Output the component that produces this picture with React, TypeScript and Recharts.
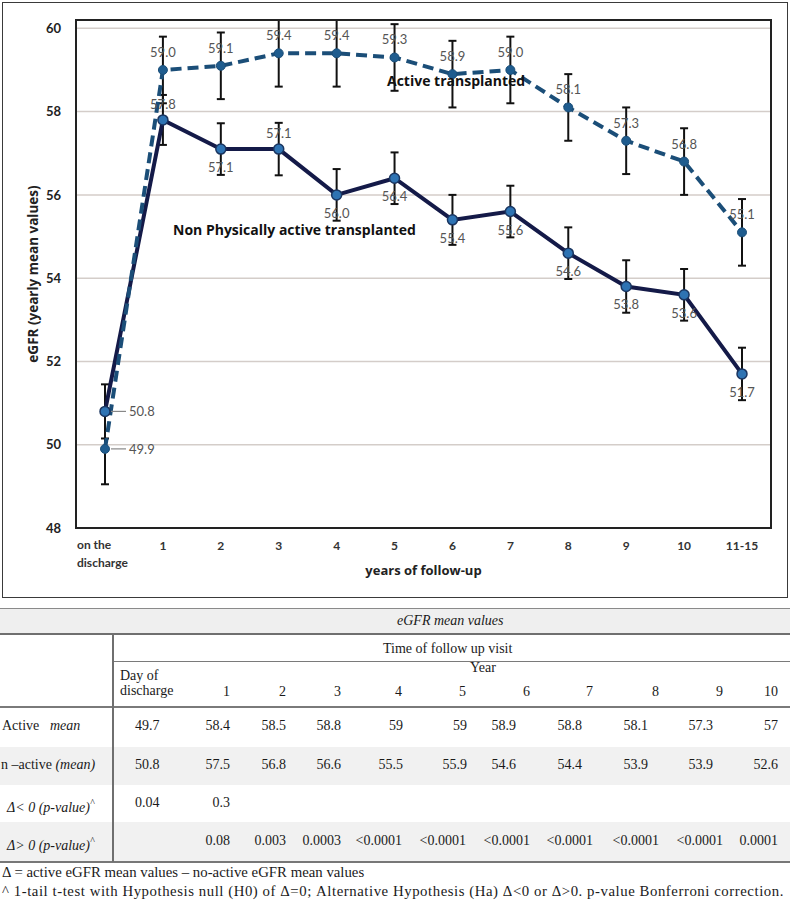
import { LineChart, Line, XAxis, YAxis, CartesianGrid, ErrorBar, LabelList } from 'recharts';

// follow-up points on the x axis
const categories = ['on the discharge', '1', '2', '3', '4', '5', '6', '7', '8', '9', '10', '11-15'];

// yearly eGFR means
const activeMean = [49.9, 59.0, 59.1, 59.4, 59.4, 59.3, 58.9, 59.0, 58.1, 57.3, 56.8, 55.1];
const nonActiveMean = [50.8, 57.8, 57.1, 57.1, 56.0, 56.4, 55.4, 55.6, 54.6, 53.8, 53.6, 51.7];

// half-length of the error bars
const activeErr = [0.85, 0.8, 0.8, 0.8, 0.8, 0.8, 0.8, 0.8, 0.8, 0.8, 0.8, 0.8];
const nonActiveErr = [0.65, 0.6, 0.62, 0.63, 0.62, 0.62, 0.6, 0.62, 0.62, 0.63, 0.62, 0.63];

const yTicks = [48, 50, 52, 54, 56, 58, 60];

// table below the chart
const tableYears = ['1', '2', '3', '4', '5', '6', '7', '8', '9', '10'];
const tableActive = ['49.7', '58.4', '58.5', '58.8', '59', '59', '58.9', '58.8', '58.1', '57.3', '57'];
const tableNonActive = ['50.8', '57.5', '56.8', '56.6', '55.5', '55.9', '54.6', '54.4', '53.9', '53.9', '52.6'];
const pLess = ['0.04', '0.3', '', '', '', '', '', '', '', '', ''];
const pGreater = ['', '0.08', '0.003', '0.0003', '<0.0001', '<0.0001', '<0.0001', '<0.0001', '<0.0001', '<0.0001', '0.0001'];

const chartData = categories.map((cat, i) => ({
  cat,
  active: activeMean[i],
  nonActive: nonActiveMean[i],
  activeErr: activeErr[i],
  nonActiveErr: nonActiveErr[i],
}));

const SANS = 'Lato, "Open Sans", sans-serif';
const WIDE = '"Open Sans", Lato, sans-serif';
const SERIF = '"Liberation Serif", "Times New Roman", serif';

// chart box: plot area follows from these margins and axis sizes
const W = 790;
const H = 600;
const M = { top: 20, right: 19, bottom: 0, left: 36 };
const Y_AXIS_W = 40;
const X_AXIS_H = 72;

// right edges of the table's year columns
const colRight = [230, 286, 341, 402, 466, 530, 593, 659, 723, 778];
const meanRight = [230, 286, 341, 403, 467, 516, 582, 648, 713, 778];

const fmt = (v: number) => Number(v).toFixed(1);

function pointOf(props: any) {
  const vb = props.viewBox || {};
  return { x: props.x ?? vb.x, y: props.y ?? vb.y };
}

const labelStyle = { fontFamily: SANS, fontSize: 13, fill: '#555' };

function sideLabel(x: number, y: number, value: number) {
  return (
    <g>
      <line x1={x + 6} y1={y} x2={x + 21} y2={y} stroke="#888" strokeWidth={1.2} />
      <text x={x + 24} y={y} dominantBaseline="central" {...labelStyle}>
        {fmt(value)}
      </text>
    </g>
  );
}

const ActiveLabel = (props: any) => {
  const { x, y } = pointOf(props);
  if (x == null || y == null) return null;
  if (props.index === 0) return sideLabel(x, y, props.value);
  return (
    <text x={x} y={y - 13} textAnchor="middle" {...labelStyle}>
      {fmt(props.value)}
    </text>
  );
};

const NonActiveLabel = (props: any) => {
  const { x, y } = pointOf(props);
  if (x == null || y == null) return null;
  if (props.index === 0) return sideLabel(x, y, props.value);
  const above = props.index === 1 || props.index === 3;
  return (
    <text x={x} y={above ? y - 11 : y + 23} textAnchor="middle" {...labelStyle}>
      {fmt(props.value)}
    </text>
  );
};

const XTick = (props: any) => {
  const { x, y, payload } = props;
  const style = { fontFamily: SANS, fontSize: 12, fontWeight: 700, fill: '#333' };
  if (payload.value === 'on the discharge') {
    return (
      <text x={x - 28} y={y + 21} textAnchor="start" {...style}>
        <tspan x={x - 28}>on the</tspan>
        <tspan x={x - 28} dy={18}>discharge</tspan>
      </text>
    );
  }
  return (
    <text x={x} y={y + 22} textAnchor="middle" {...style}>
      {payload.value}
    </text>
  );
};

function Cell({ cy, left, right, children, style }: any) {
  return (
    <div
      style={{
        position: 'absolute',
        top: cy - 10,
        height: 20,
        lineHeight: '20px',
        left,
        right: right !== undefined ? 790 - right : undefined,
        whiteSpace: 'nowrap',
        ...style,
      }}
    >
      {children}
    </div>
  );
}

function HLine({ y, x1 = 0, x2 = 790, w = 1, color = '#8a8a8a' }: any) {
  return <div style={{ position: 'absolute', left: x1, top: y, width: x2 - x1, height: w, background: color }} />;
}

function Table() {
  const rowsY = [726, 765, 803, 841];
  return (
    <div style={{ position: 'absolute', left: 0, top: 0, width: 790, height: 905, fontFamily: SERIF, fontSize: 14, color: '#1a1a1a' }}>
      <div style={{ position: 'absolute', left: 0, top: 608, width: 790, height: 25, background: '#efefef' }} />
      <div style={{ position: 'absolute', left: 0, top: 747, width: 790, height: 38, background: '#f1f1f1' }} />
      <div style={{ position: 'absolute', left: 0, top: 822, width: 790, height: 40, background: '#f1f1f1' }} />
      <HLine y={608} />
      <HLine y={633} w={1.5} color="#6f6f6f" />
      <HLine y={661} x1={113} color="#7a7a7a" />
      <HLine y={706} w={1.5} color="#7a7a7a" />
      <HLine y={861} w={2} color="#777" />
      <div style={{ position: 'absolute', left: 112, top: 633, width: 1.5, height: 229, background: '#6f6f6f' }} />

      <Cell cy={621} left={397} style={{ fontStyle: 'italic' }}>eGFR mean values</Cell>
      <Cell cy={649} left={383}>Time of follow up visit</Cell>
      <Cell cy={676} left={120}>Day of</Cell>
      <Cell cy={691} left={120}>discharge</Cell>
      <Cell cy={668} left={470}>Year</Cell>
      {tableYears.map((yr, i) => (
        <Cell key={`h-${yr}`} cy={692} right={colRight[i]}>{yr}</Cell>
      ))}

      <Cell cy={rowsY[0]} left={2}>Active</Cell>
      <Cell cy={rowsY[0]} left={50} style={{ fontStyle: 'italic' }}>mean</Cell>
      <Cell cy={rowsY[1]} left={1}>
        n –active <i>(mean)</i>
      </Cell>
      <Cell cy={rowsY[2]} left={7} style={{ fontStyle: 'italic' }}>
        Δ&lt; 0 (p-value)<sup style={{ fontSize: 10 }}>^</sup>
      </Cell>
      <Cell cy={rowsY[3]} left={7} style={{ fontStyle: 'italic' }}>
        Δ&gt; 0 (p-value)<sup style={{ fontSize: 10 }}>^</sup>
      </Cell>

      {[tableActive, tableNonActive, pLess, pGreater].map((row, r) =>
        row.map((v, i) =>
          v === '' ? null : i === 0 ? (
            <Cell key={`c-${r}-${i}`} cy={rowsY[r]} left={135}>{v}</Cell>
          ) : (
            <Cell key={`c-${r}-${i}`} cy={rowsY[r]} right={r < 2 ? meanRight[i - 1] : colRight[i - 1]}>{v}</Cell>
          )
        )
      )}

      <Cell cy={872} left={2} style={{ fontSize: 14.8 }}>Δ = active eGFR mean values – no-active eGFR mean values</Cell>
      <Cell cy={891} left={2} style={{ fontSize: 14.8, letterSpacing: 0.55 }}>
        ^ 1-tail t-test with Hypothesis null (H0) of Δ=0; Alternative Hypothesis (Ha) Δ&lt;0 or Δ&gt;0. p-value Bonferroni correction.
      </Cell>
    </div>
  );
}

export default function App() {
  const plotLeft = M.left + Y_AXIS_W;
  const plotTop = M.top;
  const plotW = W - plotLeft - M.right;
  const plotH = H - M.top - M.bottom - X_AXIS_H;
  return (
    <div style={{ position: 'absolute', left: 0, top: 0, width: 790, height: 905, background: '#fff', overflow: 'hidden' }}>
      <div style={{ position: 'absolute', left: 2, top: 2, width: 784, height: 594, border: '1.5px solid #3a3a3a' }} />
      <div style={{ position: 'absolute', left: 0, top: 0 }}>
        <LineChart width={W} height={H} data={chartData} margin={M}>
          <CartesianGrid vertical={false} stroke="#d4cdc9" strokeWidth={1.5} />
          <XAxis
            dataKey="cat"
            height={X_AXIS_H}
            interval={0}
            tickSize={0}
            tickMargin={0}
            padding={{ left: 29, right: 29 }}
            axisLine={false}
            tickLine={false}
            tick={<XTick />}
            label={(p: any) => {
              const vb = p.viewBox;
              return (
                <text x={vb.x + vb.width / 2} y={vb.y + 47} textAnchor="middle" fontFamily={WIDE} fontSize={13} fontWeight={700} fill="#222">
                  years of follow-up
                </text>
              );
            }}
          />
          <YAxis
            domain={[48, 60]}
            ticks={yTicks}
            width={Y_AXIS_W}
            tickSize={0}
            tickMargin={15}
            axisLine={false}
            tickLine={false}
            tick={{ fontFamily: SANS, fontSize: 13, fontWeight: 700, fill: '#222' }}
            label={(p: any) => {
              const vb = p.viewBox;
              const cx = vb.x - 3;
              const cy = vb.y + vb.height / 2;
              return (
                <text x={cx} y={cy} transform={`rotate(-90, ${cx}, ${cy})`} textAnchor="middle" dominantBaseline="central" fontFamily={WIDE} fontSize={13.5} fontWeight={700} fill="#222">
                  eGFR (yearly mean values)
                </text>
              );
            }}
          />
          <Line
            dataKey="nonActive"
            stroke="#141a48"
            strokeWidth={4}
            dot={{ r: 5, fill: '#2e73b3', stroke: '#1a3560', strokeWidth: 1.5 }}
            isAnimationActive={false}
          >
            <ErrorBar dataKey="nonActiveErr" width={4} stroke="#111" strokeWidth={2} />
            <LabelList dataKey="nonActive" content={<NonActiveLabel />} />
          </Line>
          <Line
            dataKey="active"
            stroke="#1b4e78"
            strokeWidth={4}
            strokeDasharray="11 6"
            dot={{ r: 4.5, fill: '#1f5c8e', stroke: '#1b4e78', strokeWidth: 1, strokeDasharray: '0' }}
            isAnimationActive={false}
          >
            <ErrorBar dataKey="activeErr" width={4} stroke="#111" strokeWidth={2} />
            <LabelList dataKey="active" content={<ActiveLabel />} />
          </Line>
        </LineChart>
      </div>
      {/* dark frame round the plot area */}
      <div
        style={{
          position: 'absolute',
          left: plotLeft - 1,
          top: plotTop - 1,
          width: plotW - 2,
          height: plotH - 2,
          border: '2px solid #222',
          pointerEvents: 'none',
        }}
      />
      <div style={{ position: 'absolute', left: 387, top: 71, fontFamily: WIDE, fontSize: 14, fontWeight: 700, color: '#111', whiteSpace: 'nowrap' }}>
        Active transplanted
      </div>
      <div style={{ position: 'absolute', left: 173, top: 220, fontFamily: WIDE, fontSize: 14, fontWeight: 700, color: '#111', whiteSpace: 'nowrap' }}>
        Non Physically active transplanted
      </div>
      <Table />
    </div>
  );
}
